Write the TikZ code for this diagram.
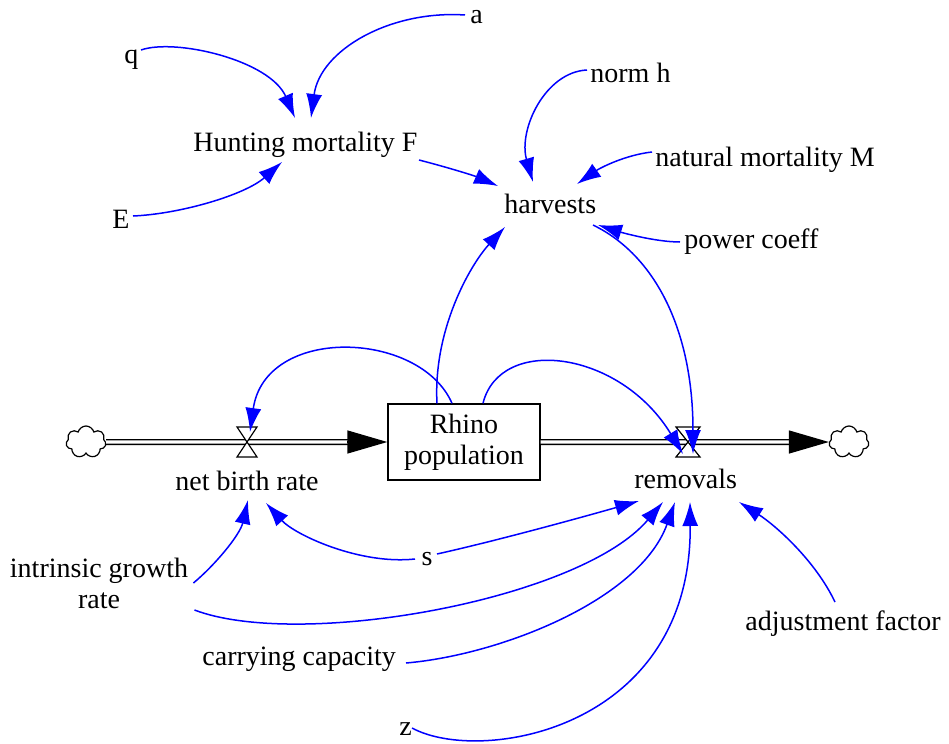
\documentclass[tikz,border=0pt]{standalone}
\usepackage{fontspec}
\setmainfont{Liberation Serif}
\usetikzlibrary{calc,arrows.meta,shapes.symbols}

\begin{document}
\begin{tikzpicture}[x=0.5pt,y=-0.5pt,
font=\rmfamily\fontsize{14}{15.5}\selectfont,
var/.style={inner sep=1pt},
link/.style={blue,line width=0.75pt,-{Latex[length=12pt,width=8pt]}},
pipe/.style={draw=black,double=white,double distance=1.6pt,line width=0.7pt},
pipetip/.style={black,line width=0.7pt,-{Triangle[length=20pt,width=11.5pt]}},
valve/.style={draw=black,fill=white,line width=0.6pt,line join=miter},
cloudy/.style={cloud,cloud puffs=7,aspect=1.25,draw=black,fill=white,line width=0.6pt,minimum width=20pt,minimum height=16pt,inner sep=0pt},
stock/.style={draw=black,fill=white,line width=0.7pt,minimum width=76pt,minimum height=38pt,align=center,inner sep=0pt}]

\useasboundingbox (0,0) rectangle (949,744);

	\def \py {442}
\node[cloudy] (srcL) at (86,\py) {};
\node[cloudy] (snk) at (849,\py) {};
\node[stock] (rhino) at (464,\py) {Rhino\\population};
\coordinate (nbrv) at (247,\py);
\coordinate (remv) at (688,\py);

\draw[pipe] (srcL.east) -- ($(rhino.west)+(-38,0)$);
\draw[pipetip] ($(rhino.west)+(-40,0)$) -- (rhino.west);
\draw[pipe] (rhino.east) -- ($(snk.west)+(-38,0)$);
\draw[pipetip] ($(snk.west)+(-40,0)$) -- (snk.west);

\draw[valve] ($(nbrv)+(-10,-15)$) -- ++(20,0) -- ($(nbrv)+(-10,15)$) -- ++(20,0) -- cycle;
\draw[valve] ($(remv)+(-12,-15)$) -- ++(24,0) -- ($(remv)+(-12,15)$) -- ++(24,0) -- cycle;

\node[var,anchor=base west] (q) at (122,63) {q};
\node[var,anchor=base west] (a) at (468,24) {a};
\node[var,anchor=base west] (hunt) at (191,151) {Hunting mortality F};
\node[var,anchor=base west] (E) at (110,228) {E};
\node[var,anchor=base west] (normh) at (588,83) {norm h};
\node[var,anchor=base west] (natM) at (653,166) {natural mortality M};
\node[var,anchor=base west] (harv) at (502,213) {harvests};
\node[var,anchor=base west] (pc) at (682,248) {power coeff};
\node[var,anchor=base west] (nbr) at (173,490) {net birth rate};
\node[var,anchor=base west] (rem) at (632,488) {removals};
\node[var,anchor=base] (s) at (427,565) {s};
\node[var,align=center] (igr) at (99,583) {intrinsic growth\\rate};
\node[var,anchor=base west] (cc) at (200,665) {carrying capacity};
\node[var,anchor=base west] (z) at (397,735) {z};
\node[var,anchor=base west] (adj) at (743,630) {adjustment factor};

\draw[link] ($(q.base west)+(19,-13)$) .. controls (175,38) and (270,60) .. ($(hunt.base west)+(104,-33)$);
\draw[link] ($(a.base west)+(-3,-9)$) .. controls (390,10) and (320,50) .. ($(hunt.base west)+(120,-33)$);
\draw[link] ($(E.base west)+(23,-12)$) .. controls (180,214) and (245,195) .. ($(hunt.base west)+(91,11)$);
\draw[link] ($(hunt.base west)+(228,9)$) .. controls (450,168) and (475,176) .. ($(harv.base west)+(-4,-27)$);
\draw[link] ($(normh.base west)+(-1,-13)$) .. controls (545,72) and (518,130) .. ($(harv.base west)+(31,-31)$);
\draw[link] ($(natM.base west)+(-1,-14)$) .. controls (625,155) and (600,168) .. ($(harv.base west)+(75,-29)$);
\draw[link] ($(pc.base west)+(-2,-6)$) .. controls (655,242) and (620,232) .. ($(harv.base west)+(96,12)$);
\draw[link] ($(rhino.north)+(-27,0)$) .. controls (433,330) and (470,265) .. ($(harv.base west)+(3,14)$);
\draw[link] ($(harv.base west)+(91,12)$) .. controls (655,255) and (693,330) .. ($(remv)+(5,12)$);
\draw[link] ($(rhino.north)+(19,0)$) .. controls (500,335) and (620,350) .. ($(remv)+(-5,12)$);
\draw[link] ($(rhino.north)+(-12,0)$) .. controls (420,330) and (265,325) .. ($(nbrv)+(3,-10)$);

\draw[link] ($(igr.east)+(3,0)$) .. controls (215,565) and (240,535) .. ($(nbr.base west)+(75,10)$);
\draw[link] ($(s.base)+(-12,-6)$) .. controls (360,565) and (295,535) .. ($(nbr.base west)+(93,13)$);
\draw[link] ($(s.base)+(10,-11)$) .. controls (500,540) and (590,515) .. ($(rem.base west)+(7,13)$);
\draw[link] ($(igr.east)+(4,27)$) .. controls (300,650) and (580,600) .. ($(rem.base west)+(31,14)$);
\draw[link] ($(cc.base west)+(206,-2)$) .. controls (500,655) and (640,600) .. ($(rem.base west)+(43,14)$);
\draw[link] ($(z.base west)+(15,-7)$) .. controls (480,765) and (692,730) .. ($(rem.base west)+(58,14)$);
\draw[link] ($(adj.base west)+(92,-28)$) .. controls (815,560) and (775,525) .. ($(rem.base west)+(107,14)$);
\end{tikzpicture}
\end{document}
